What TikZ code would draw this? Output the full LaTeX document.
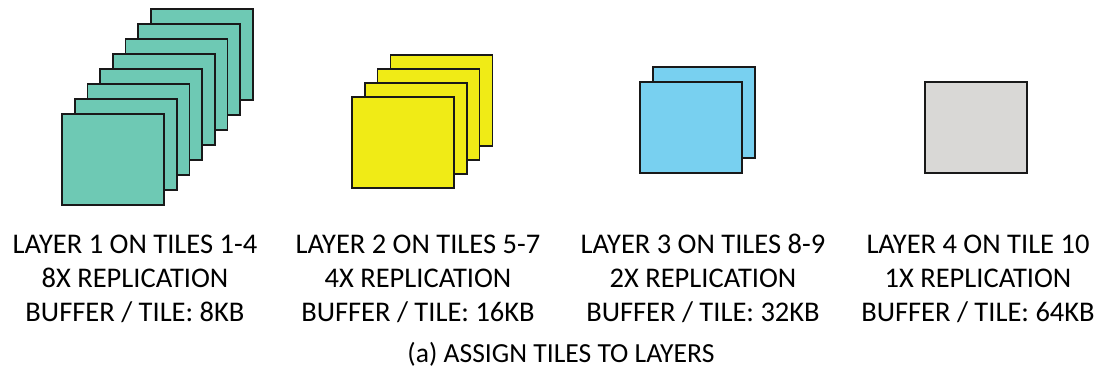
\documentclass[tikz,border=0pt]{standalone}
\usepackage{fontspec}
\setmainfont{Carlito}
\definecolor{tilegreen}{RGB}{110,201,180}
\definecolor{tileyellow}{RGB}{240,235,22}
\definecolor{tileblue}{RGB}{120,208,240}
\definecolor{tilegray}{RGB}{217,216,214}
\tikzset{
  tile/.style={draw=black!90, line width=1.6pt},
  lbl/.style={anchor=base, inner sep=0pt, font=\fontsize{28.5}{32}\selectfont},
  captiontext/.style={anchor=base, inner sep=0pt, font=\fontsize{27.6}{31}\selectfont},
}
% \tilestack{x}{y}{dx}{dy}{count}{colour}: (x,y) is the lower-left corner of the front tile
\newcommand{\tilestack}[6]{%
  \foreach \k in {#5,...,1}{%
    \filldraw[tile, fill=#6]
      ({#1+(\k-1)*#3},{-#2+(\k-1)*#4}) rectangle ++(102,91);
  }%
}
\begin{document}
\begin{tikzpicture}[x=1pt,y=1pt]
  \useasboundingbox (0,0) rectangle (1099,-370);

  % tile stacks, one per layer
  \tilestack{62}{205}{12.7}{15}{8}{tilegreen}
  \tilestack{352}{188}{12.8}{14.1}{4}{tileyellow}
  \tilestack{640}{173}{12.7}{15.3}{2}{tileblue}
  \tilestack{925}{173}{0}{0}{1}{tilegray}

  % layer descriptions
  \node[lbl] (l1a) at (135,-253.3) {LAYER 1 ON TILES 1-4};
  \node[lbl] (l1b) at (135,-287.3) {8X REPLICATION};
  \node[lbl] (l1c) at (135,-321.7) {BUFFER / TILE: 8KB};

  \node[lbl] (l2a) at (418,-253.3) {LAYER 2 ON TILES 5-7};
  \node[lbl] (l2b) at (418,-287.3) {4X REPLICATION};
  \node[lbl] (l2c) at (418,-321.7) {BUFFER / TILE: 16KB};

  \node[lbl] (l3a) at (703,-253.3) {LAYER 3 ON TILES 8-9};
  \node[lbl] (l3b) at (703,-287.3) {2X REPLICATION};
  \node[lbl] (l3c) at (703,-321.7) {BUFFER / TILE: 32KB};

  \node[lbl] (l4a) at (978,-253.3) {LAYER 4 ON TILE 10};
  \node[lbl] (l4b) at (978,-287.3) {1X REPLICATION};
  \node[lbl] (l4c) at (978,-321.7) {BUFFER / TILE: 64KB};

  \node[captiontext] (caption) at (561,-362.7) {(a) ASSIGN TILES TO LAYERS};
\end{tikzpicture}
\end{document}
